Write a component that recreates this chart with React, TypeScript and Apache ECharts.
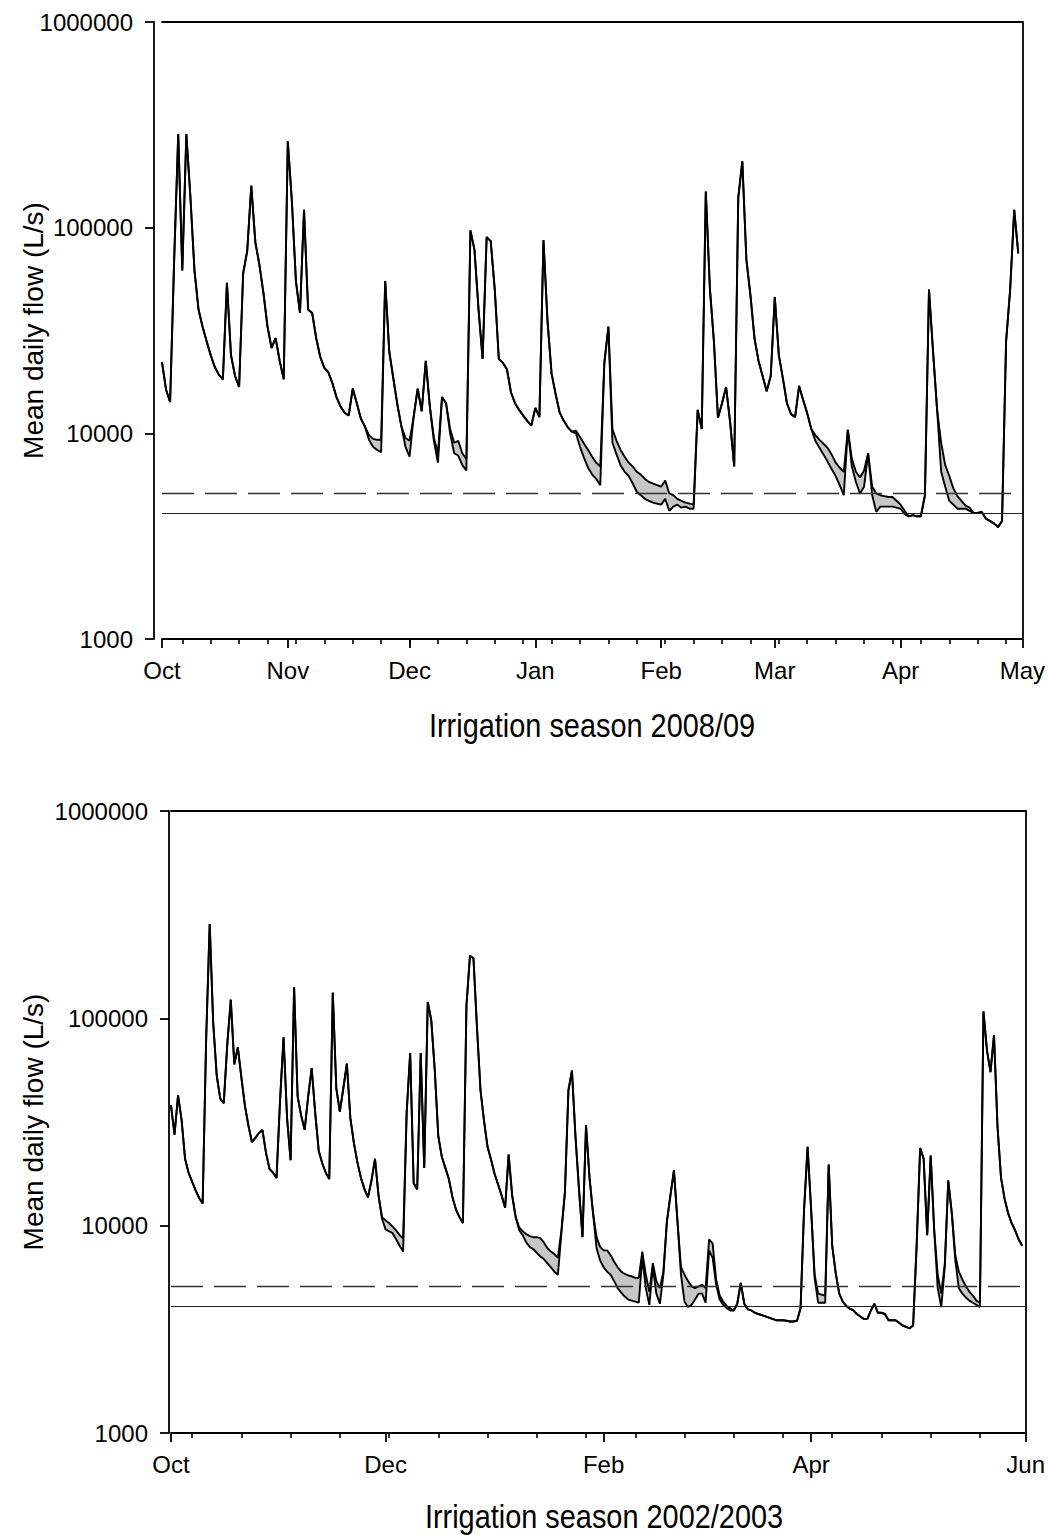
import React, { useEffect, useRef } from 'react';
import * as echarts from 'echarts';

const FONT = '"Liberation Sans", Arial, Helvetica, sans-serif';

// ---------- Top panel: irrigation season 2008/09 (daily values from 1 Oct) ----------
const TOP_MONTH_DAYS = [0, 31, 61, 92, 123, 151, 182, 212];
const TOP_MONTH_LABELS = ['Oct', 'Nov', 'Dec', 'Jan', 'Feb', 'Mar', 'Apr', 'May'];
const TOP_WEEK_TICKS = [5, 12, 19, 26, 33, 40, 47, 54, 61, 68, 75, 82, 89, 96, 103, 110, 117, 124, 131, 138, 145, 152, 159, 166, 173, 180, 187, 194, 201, 208];
const TOP_NATURAL = [
  22200, 16300, 14200, 70000, 285000, 62000, 285000, 141000, 62000, 40000,
  33000, 28000, 24000, 21000, 19300, 18300, 54000, 24000, 19000, 16800,
  60000, 77000, 160000, 85000, 66000, 48000, 33000, 26000, 29000, 22500,
  18300, 263000, 135000, 55000, 38500, 122000, 40000, 38500, 29000, 23500,
  20800, 19800, 17500, 15000, 13500, 12600, 12200, 16500, 14000, 11800,
  10800, 9800, 9400, 9300, 9300, 55000, 25000, 18500, 13800, 10800,
  9500, 9200, 12000, 16500, 12800, 22500, 13500, 9500, 8000, 15000,
  14000, 10500, 9000, 9200, 8000, 7500, 97000, 78000, 40000, 23000,
  90000, 86000, 50000, 23000, 22000, 20500, 15800, 14000, 13000, 12200,
  11500, 10900, 13300, 12000, 87000, 35000, 19500, 15500, 12600, 11500,
  10700, 10200, 10300, 9600, 8900, 8300, 7700, 7200, 6900, 22000,
  33000, 10500, 9200, 8300, 7700, 7200, 6900, 6500, 6300, 6000,
  5800, 5700, 5600, 5500, 5900, 5100, 5000, 4800, 4700, 4600,
  4550, 4500, 13000, 10500, 150000, 51000, 28000, 11900, 14000, 16800,
  11300, 6900, 140000, 210000, 70000, 47000, 29000, 22500, 19000, 16000,
  19000, 46000, 24000, 18500, 14000, 12400, 12000, 17000, 14500, 12500,
  10500, 9800, 9300, 8900, 8500, 7900, 7200, 6800, 6500, 10400,
  7500, 6500, 6100, 6600, 8000, 5500, 5100, 5000, 4950, 4900,
  4900, 4700, 4500, 4200, 3950, 4000, 3950, 3950, 5000, 50000,
  25000, 13000, 9000, 7000, 6200, 5400, 4950, 4700, 4450, 4350,
  4100, 4100, 4150, 3850, 3750, 3650, 3500, 3750, 28000, 50000,
  122000, 75000,
];
// days where the flow with abstraction is below the natural flow: [day, value]
const TOP_ABSTRACTED: [number, number][] = [
  [51, 9300], [52, 8600], [53, 8300], [54, 8100], [60, 8600], [61, 7700],
  [67, 9200], [68, 7200], [71, 10000], [72, 8000], [73, 7800], [74, 7000], [75, 6600],
  [102, 10000], [103, 8600], [104, 7600], [105, 6800], [106, 6300], [107, 6000], [108, 5600],
  [111, 9000], [112, 7900], [113, 7000], [114, 6500], [115, 6200], [116, 5700], [117, 5200],
  [118, 5000], [119, 4800], [120, 4700], [121, 4600], [122, 4550], [123, 4500], [124, 4800],
  [125, 4200], [126, 4400], [127, 4500], [128, 4350], [129, 4400], [130, 4300], [131, 4300],
  [161, 9200], [162, 8500], [163, 7900], [164, 7300], [165, 6700], [166, 6200], [167, 5600], [168, 5000],
  [170, 6900], [171, 5800], [172, 5100], [173, 5500], [175, 5000], [176, 4150], [177, 4400],
  [178, 4400], [179, 4400], [180, 4400], [181, 4350], [182, 4300], [183, 4050],
  [192, 6500], [193, 5500], [194, 4700], [195, 4500], [196, 4300], [197, 4300], [198, 4300], [199, 4200],
];

// ---------- Bottom panel: irrigation season 2002/2003 ----------
const BOT_MONTH_DAYS = [0, 61, 123, 182, 243];
const BOT_MONTH_LABELS = ['Oct', 'Dec', 'Feb', 'Apr', 'Jun'];
const BOT_WEEK_TICKS = [6, 20, 34, 48, 62, 76, 90, 104, 118, 132, 146, 160, 174, 188, 202, 216, 230];
const BOT_NATURAL = [
  38000, 27500, 42500, 32500, 21000, 18000, 16300, 14800, 13600, 12800,
  80000, 285000, 95000, 53000, 41000, 39000, 75000, 123000, 60000, 72500,
  52000, 38000, 30500, 25300, 26500, 28000, 28900, 22500, 18800, 18000,
  17000, 40000, 81000, 33000, 20700, 141000, 42000, 34000, 29000, 42000,
  57500, 35000, 23000, 20000, 18000, 16800, 133000, 46000, 35500, 46000,
  60500, 33000, 25000, 20200, 17000, 15000, 13700, 16500, 21000, 14000,
  11000, 10600, 10300, 9900, 9500, 9000, 8700, 35000, 68000, 16000,
  15000, 68000, 19000, 120000, 98000, 56000, 27000, 21500, 19000, 16800,
  13800, 12000, 11000, 10300, 115000, 200000, 195000, 90000, 45000, 32000,
  24000, 20800, 17800, 15800, 14000, 12200, 22000, 14000, 11000, 9800,
  9400, 9100, 8900, 8800, 8800, 8700, 8300, 7800, 7500, 7300,
  7000, 9500, 14500, 45000, 56000, 27000, 15000, 8800, 30500, 17000,
  11500, 8800, 7900, 7600, 7600, 7200, 6700, 6300, 6000, 5850,
  5750, 5700, 5600, 5600, 7500, 5800, 4800, 6600, 5400, 5000,
  6000, 10500, 14000, 18500, 10500, 6300, 5800, 5400, 5100, 5000,
  5100, 5200, 5000, 8600, 8200, 5500, 4600, 4300, 4100, 4000,
  3900, 4200, 5300, 4200, 3950, 3900, 3800, 3750, 3700, 3650,
  3600, 3550, 3500, 3500, 3500, 3480, 3450, 3450, 3480, 4000,
  12000, 24000, 12000, 5800, 4700, 4650, 4600, 19700, 8000, 5900,
  4700, 4300, 4100, 3980, 3900, 3750, 3650, 3550, 3550, 3900,
  4200, 3800, 3800, 3750, 3500, 3500, 3500, 3400, 3300, 3250,
  3200, 3300, 8000, 23700, 21000, 9000, 21800, 9500, 5800, 4700,
  6500, 16500, 11500, 7200, 6000, 5500, 5100, 4800, 4600, 4350,
  4250, 108000, 70000, 55000, 83000, 30000, 17000, 13500, 11500, 10300,
  9500, 8600, 8000,
];
const BOT_ABSTRACTED: [number, number][] = [
  [60, 10800], [61, 9600], [62, 9400], [63, 9200], [64, 8600], [65, 8000], [66, 7500],
  [99, 9500], [100, 9000], [101, 8300], [102, 7900], [103, 7700], [104, 7400], [105, 7100],
  [106, 6900], [107, 6600], [108, 6300], [109, 6000], [110, 5800], [111, 9200],
  [121, 7800], [122, 6800], [123, 6300], [124, 6000], [125, 5800], [126, 5400], [127, 5000],
  [128, 4750], [129, 4550], [130, 4400], [131, 4350], [132, 4300], [133, 4250], [134, 7000],
  [135, 5000], [136, 4150], [137, 6300], [138, 4700], [139, 4200], [140, 5800],
  [145, 5800], [146, 4300], [147, 4050], [148, 4150], [149, 4400], [150, 4700], [151, 4700],
  [152, 4250], [153, 7600], [154, 7000], [155, 5200], [156, 4400], [157, 4150], [158, 4000], [159, 3900],
  [183, 5600], [184, 4250], [185, 4250], [186, 4250],
  [218, 5000], [219, 4050], [220, 6300],
  [223, 6800], [224, 5000], [225, 4700], [226, 4500], [227, 4350], [228, 4250], [229, 4150], [230, 4050],
];

// horizontal reference flows (L/s)
const THRESHOLD_DASHED = 5100;
const THRESHOLD_SOLID = 4100;

const Y_TICKS_MIN = 1000;
const Y_TICKS_MAX = 1000000;

interface Panel {
  grid: { left: number; top: number; width: number; height: number };
  yOffset: number;
  nCats: number;
  monthDays: number[];
  monthLabels: string[];
  weekTicks: number[];
  natural: number[];
  abstracted: [number, number][];
  title: string;
  titleX: number;
  titleY: number;
}

const PANELS: Panel[] = [
  {
    grid: { left: 162, top: 22, width: 861, height: 617 },
    yOffset: 8,
    nCats: 213,
    monthDays: TOP_MONTH_DAYS,
    monthLabels: TOP_MONTH_LABELS,
    weekTicks: TOP_WEEK_TICKS,
    natural: TOP_NATURAL,
    abstracted: TOP_ABSTRACTED,
    title: 'Irrigation season 2008/09',
    titleX: 592,
    titleY: 725,
  },
  {
    grid: { left: 171, top: 811, width: 857, height: 622 },
    yOffset: 2,
    nCats: 244,
    monthDays: BOT_MONTH_DAYS,
    monthLabels: BOT_MONTH_LABELS,
    weekTicks: BOT_WEEK_TICKS,
    natural: BOT_NATURAL,
    abstracted: BOT_ABSTRACTED,
    title: 'Irrigation season 2002/2003',
    titleX: 604,
    titleY: 1516,
  },
];

function buildOption() {
  const grids: any[] = [];
  const xAxes: any[] = [];
  const yAxes: any[] = [];
  const series: any[] = [];
  const graphics: any[] = [];
  const axisColor = '#000';

  PANELS.forEach((p, k) => {
    grids.push({ ...p.grid, containLabel: false });
    const cats = Array.from({ length: p.nCats }, (_, i) => String(i));
    const majorSet = new Set(p.monthDays);
    const minorSet = new Set(p.weekTicks);
    const labelMap = new Map<number, string>();
    p.monthDays.forEach((d, i) => labelMap.set(d, p.monthLabels[i]));
    const overrides = new Map<number, number>(p.abstracted);
    const regulated = p.natural.map((v, i) => (overrides.has(i) ? (overrides.get(i) as number) : v));

    // main x axis (months)
    xAxes.push({
      type: 'category',
      gridIndex: k,
      data: cats,
      boundaryGap: false,
      position: 'bottom',
      axisLine: { show: true, onZero: false, lineStyle: { color: axisColor, width: 1.8 } },
      axisTick: {
        show: true,
        length: 9,
        interval: (i: number) => majorSet.has(i),
        lineStyle: { color: axisColor, width: 1.8 },
      },
      axisLabel: {
        show: true,
        interval: (i: number) => majorSet.has(i),
        formatter: (v: string) => labelMap.get(Number(v)) ?? '',
        fontSize: 24,
        fontFamily: FONT,
        color: '#000',
        margin: 19,
      },
      splitLine: { show: false },
    });
    // minor x axis (weekly ticks)
    xAxes.push({
      type: 'category',
      gridIndex: k,
      data: cats,
      boundaryGap: false,
      position: 'bottom',
      axisLine: { show: false, onZero: false },
      axisTick: {
        show: true,
        length: 5,
        interval: (i: number) => minorSet.has(i),
        lineStyle: { color: axisColor, width: 1.6 },
      },
      axisLabel: { show: false },
      splitLine: { show: false },
    });
    // top frame
    xAxes.push({
      type: 'value',
      gridIndex: k,
      position: 'top',
      min: 0,
      max: 1,
      axisLine: { show: true, onZero: false, lineStyle: { color: axisColor, width: 1.8 } },
      axisTick: { show: false },
      axisLabel: { show: false },
      splitLine: { show: false },
    });

    yAxes.push({
      type: 'log',
      logBase: 10,
      gridIndex: k,
      min: Y_TICKS_MIN,
      max: Y_TICKS_MAX,
      position: 'left',
      offset: p.yOffset,
      axisLine: { show: true, onZero: false, lineStyle: { color: axisColor, width: 1.8 } },
      axisTick: { show: true, length: 9, lineStyle: { color: axisColor, width: 1.8 } },
      axisLabel: {
        fontSize: 24,
        fontFamily: FONT,
        color: '#000',
        margin: 21,
        formatter: (v: number) => String(Math.round(v)),
      },
      splitLine: { show: false },
      minorTick: { show: false },
    });
    yAxes.push({
      type: 'value',
      gridIndex: k,
      position: 'right',
      min: 0,
      max: 1,
      axisLine: { show: true, onZero: false, lineStyle: { color: axisColor, width: 1.8 } },
      axisTick: { show: false },
      axisLabel: { show: false },
      splitLine: { show: false },
    });

    const xi = k * 3;
    const yi = k * 2;
    const natural = p.natural;
    series.push({
      type: 'custom',
      xAxisIndex: xi,
      yAxisIndex: yi,
      z: 2,
      silent: true,
      clip: true,
      data: [[0, natural[0]]],
      renderItem: (_params: any, api: any) => {
        const pts: number[][] = [];
        for (let i = 0; i < natural.length; i++) pts.push(api.coord([i, natural[i]]));
        for (let i = regulated.length - 1; i >= 0; i--) pts.push(api.coord([i, regulated[i]]));
        return {
          type: 'polygon',
          shape: { points: pts },
          style: { fill: '#c6c6c6', stroke: null, lineWidth: 0 },
        };
      },
    });
    series.push({
      type: 'line',
      name: 'Natural flow',
      xAxisIndex: xi,
      yAxisIndex: yi,
      data: natural,
      z: 3,
      showSymbol: false,
      symbol: 'none',
      lineStyle: { color: '#000', width: 1.9 },
      silent: true,
    });
    series.push({
      type: 'line',
      name: 'Flow with abstraction',
      xAxisIndex: xi,
      yAxisIndex: yi,
      data: regulated,
      z: 3,
      showSymbol: false,
      symbol: 'none',
      lineStyle: { color: '#000', width: 1.9 },
      silent: true,
      markLine: {
        silent: true,
        symbol: ['none', 'none'],
        label: { show: false },
        data: [
          { yAxis: THRESHOLD_DASHED, lineStyle: { type: [32, 11], color: '#333', width: 1.3 } },
          { yAxis: THRESHOLD_SOLID, lineStyle: { type: 'solid', color: '#222', width: 1.1 } },
        ],
      },
    });

    const gc = p.grid.top + p.grid.height / 2;
    graphics.push({
      type: 'text',
      x: 33,
      y: gc,
      rotation: Math.PI / 2,
      style: {
        text: 'Mean daily flow (L/s)',
        font: `28px ${FONT}`,
        fill: '#000',
        textAlign: 'center',
        textVerticalAlign: 'middle',
        align: 'center',
        verticalAlign: 'middle',
      },
    });
    graphics.push({
      type: 'text',
      x: p.titleX,
      y: p.titleY,
      scaleX: 0.85,
      style: {
        text: p.title,
        font: `34px ${FONT}`,
        fill: '#000',
        textAlign: 'center',
        textVerticalAlign: 'middle',
        align: 'center',
        verticalAlign: 'middle',
      },
    });
  });

  return {
    animation: false,
    backgroundColor: '#ffffff',
    grid: grids,
    xAxis: xAxes,
    yAxis: yAxes,
    series,
    graphic: graphics,
  };
}

export default function App() {
  const ref = useRef<HTMLDivElement>(null);
  useEffect(() => {
    if (!ref.current) return;
    const chart = echarts.init(ref.current, undefined, { renderer: 'svg' });
    chart.setOption(buildOption() as any);
    return () => chart.dispose();
  }, []);
  return (
    <div
      ref={ref}
      style={{ position: 'absolute', left: 0, top: 0, width: 1048, height: 1535, background: '#fff' }}
    />
  );
}
